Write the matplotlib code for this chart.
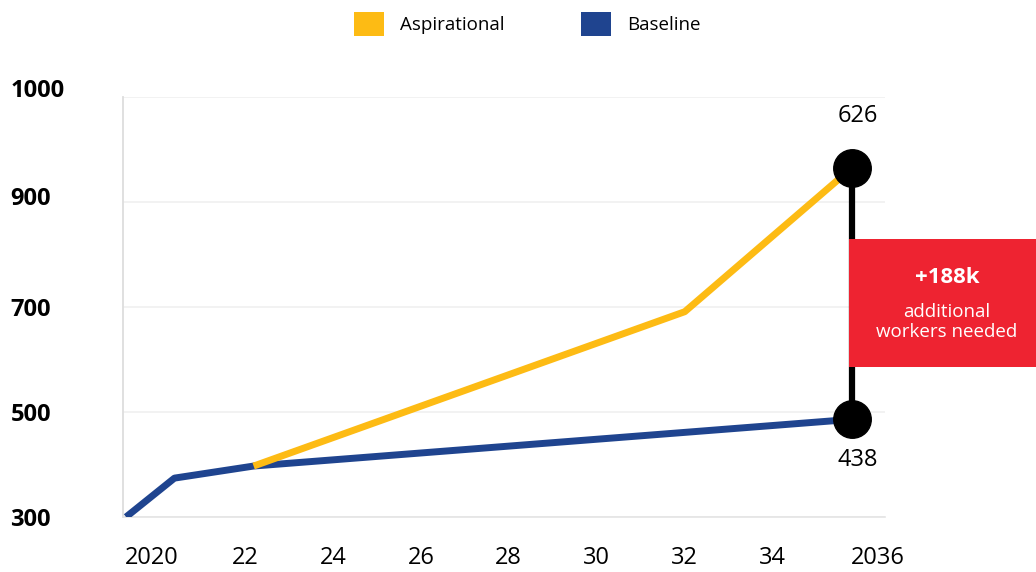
import matplotlib.pyplot as plt
import matplotlib.transforms as mtransforms
from matplotlib.patches import Patch, Rectangle

# ----------------------
# data
# ----------------------
baseline_years = [2019.3, 2020.4, 2022.2, 2035.8]
baseline_vals = [300, 374, 397, 486]
aspire_years = [2022.2, 2032.0, 2035.8]
aspire_vals = [397, 691, 965]

x_ticks = [2020, 2022, 2024, 2026, 2028, 2030, 2032, 2034, 2036]
x_labels = ["2020", "22", "24", "26", "28", "30", "32", "34", "2036"]
y_ticks = [300, 500, 700, 900, 1100]
y_labels = ["300", "500", "700", "900", "1000"]

end_top_label = "626"
end_bottom_label = "438"
gap_label = "+188k"
gap_text = "additional\nworkers needed"

YELLOW = "#FDBB14"
BLUE = "#1F448F"
RED = "#EE2331"

plt.rcParams['font.family'] = ['Open Sans', 'DejaVu Sans']

fig = plt.figure(figsize=(10.36, 5.72), dpi=100)
ax = fig.add_axes([0.1187, 0.0962, 0.7355, 0.7343])

ax.plot(baseline_years, baseline_vals, color=BLUE, lw=5, solid_capstyle='butt', zorder=3)
ax.plot(aspire_years, aspire_vals, color=YELLOW, lw=5, solid_capstyle='butt', zorder=4)

# gap connector between the two end points
x_end = aspire_years[-1]
ax.plot([x_end, x_end], [baseline_vals[-1], aspire_vals[-1]], color="black", lw=4.5,
        zorder=5, clip_on=False)
ax.plot([x_end, x_end], [baseline_vals[-1], aspire_vals[-1]], 'o', color="black",
        ms=27, zorder=6, clip_on=False)

ax.annotate(end_top_label, (x_end, aspire_vals[-1]), xytext=(4, 37), textcoords='offset points',
            ha='center', va='center', fontsize=17)
ax.annotate(end_bottom_label, (x_end, baseline_vals[-1]), xytext=(4, -29), textcoords='offset points',
            ha='center', va='center', fontsize=17)

ax.set_xticks(x_ticks)
ax.set_xticklabels(x_labels, fontsize=17)
ax.set_yticks(y_ticks)
ax.set_yticklabels(y_labels, fontsize=17, fontweight='bold')
ax.set_xlim(2019.23, 2036.55)
ax.set_ylim(300, 1100)

ax.tick_params(axis='both', which='both', length=0)
ax.tick_params(axis='x', pad=21)
ax.tick_params(axis='y', pad=81)

def nudge(label, dx_px, dy_px):
    label.set_transform(label.get_transform() +
                        mtransforms.ScaledTranslation(dx_px / 100, dy_px / 100, fig.dpi_scale_trans))

yl = ax.get_yticklabels()
for lab in yl:
    lab.set_horizontalalignment('left')
# top two labels sit a bit above their gridlines in the original
nudge(yl[3], 0, 6)
nudge(yl[4], 0, 9)

# nudge the end year labels like in the original
xl = ax.get_xticklabels()
nudge(xl[0], -5, 0)
nudge(xl[-1], 17, 0)

ax.grid(axis='y', color="#f0f0f0", lw=1.2)
for s in ['top', 'right']:
    ax.spines[s].set_visible(False)
ax.spines['left'].set_color("#dddddd")
ax.spines['left'].set_linewidth(1.3)
ax.spines['bottom'].set_color("#e4e4e4")
ax.spines['bottom'].set_linewidth(1.2)

# red call-out box
fig.patches.append(Rectangle((0.8195, 0.3584), 0.19, 0.2238, transform=fig.transFigure,
                             facecolor=RED, edgecolor='none', zorder=10))
fig.text(0.914, 0.514, gap_label, color='white', fontsize=16, fontweight='bold',
         ha='center', va='center', zorder=11)
fig.text(0.914, 0.437, gap_text, color='white', fontsize=13.5, ha='center', va='center',
         linespacing=1.15, zorder=11)

# legend
handles = [Patch(facecolor=YELLOW, edgecolor='none', label="Aspirational"),
           Patch(facecolor=BLUE, edgecolor='none', label="Baseline")]
fig.legend(handles=handles, loc='center', bbox_to_anchor=(0.509, 0.958), ncol=2, frameon=False,
           fontsize=13.5, handlelength=1.6, handleheight=1.6, handletextpad=0.85,
           columnspacing=4.1)

fig.savefig("out.png", dpi=100)
